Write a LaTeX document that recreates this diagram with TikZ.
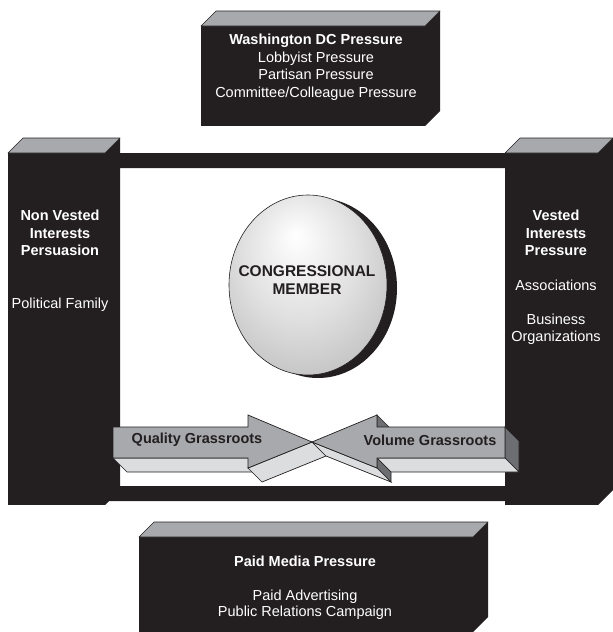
\documentclass[tikz,border=0pt]{standalone}
\usepackage{fontspec}
\setmainfont{Liberation Sans}
\usepackage{tikz}
\definecolor{ink}{HTML}{231F20}
\definecolor{lid}{HTML}{A7A9AC}
\definecolor{belly}{HTML}{DCDDDE}
\definecolor{butt}{HTML}{6D6E71}
\pgfdeclareradialshading{congball}{\pgfpoint{-4bp}{14bp}}{color(0bp)=(white); color(18bp)=(white!88!black); color(50bp)=(white!62!black)}

\begin{document}
\begin{tikzpicture}[x=1pt,y=-1pt,
  lidstyle/.style={fill=lid,draw=ink,line width=0.6pt,line join=round},
  facestyle/.style={fill=lid,draw=ink,line width=0.7pt},
  bellystyle/.style={fill=belly,draw=ink,line width=0.7pt},
  buttstyle/.style={fill=butt,draw=ink,line width=0.7pt},
  whitetext/.style={text=white,align=center,inner sep=0pt,font=\fontsize{14.5}{17.5}\selectfont},
  inktext/.style={text=ink,align=center,inner sep=0pt,font=\fontsize{14.5}{17.5}\selectfont\bfseries}]

  \useasboundingbox (0,0) rectangle (613,632);

  \fill[ink] (105,153) rectangle (505,168) (105,486) rectangle (505,501);

  \foreach \xa/\ya/\xb/\yb in {201/26/425/126, 8/153/105/505, 505/153/598/505, 139/537/473/632}
    {\fill[ink] (\xa,\ya) rectangle (\xb,\yb);
     \fill[ink] (\xb,\ya) -- ++(15,-15) -- (\xb+15,\yb-15) -- (\xb,\yb) -- cycle;
     \draw[lidstyle] (\xa,\ya) -- ++(15,-15) -- (\xb+15,\ya-15) -- (\xb,\ya) -- cycle;}

  \fill[ink] (318,288) ellipse [x radius=79, y radius=90];
  \shade[shading=congball,draw=ink,line width=0.6pt] (308,285) ellipse [x radius=79, y radius=90];

  \coordinate (tip) at (312,442);
  \draw[bellystyle] (113,458) -- (248,458) -- ++(14,14) -- (127,472) -- cycle;
  \draw[bellystyle] (248,468) -- (tip) -- ++(14,14) -- (262,482) -- cycle;
  \draw[facestyle] (113,427) -- (248,427) -- (248,415) -- (tip) -- (248,468) -- (248,458) -- (113,458) -- cycle;

  \draw[buttstyle] (505,427) -- (505,458) -- ++(14,14) -- (519,441) -- cycle;
  \draw[bellystyle] (377,458) -- (505,458) -- ++(14,14) -- (391,472) -- cycle;
  \draw[buttstyle] (377,415) -- (377,427) -- ++(14,14) -- (391,429) -- cycle;
  \draw[buttstyle] (377,458) -- (377,468) -- ++(14,14) -- (391,472) -- cycle;
  \draw[bellystyle] (tip) -- (377,468) -- ++(14,14) -- (326,456) -- cycle;
  \draw[facestyle] (tip) -- (377,415) -- (377,427) -- (505,427) -- (505,458) -- (377,458) -- (377,468) -- cycle;

  \node[whitetext] (dc) at (316,67) {{\bfseries Washington DC Pressure}\\Lobbyist Pressure\\Partisan Pressure\\Committee/Colleague Pressure};
  \node[whitetext,font=\fontsize{14.5}{17.5}\selectfont\bfseries] (nonvested) at (60,233) {Non Vested\\Interests\\Persuasion};
  \node[whitetext] (family) at (60,305) {Political Family};
  \node[whitetext,font=\fontsize{14.5}{17.5}\selectfont\bfseries] (vested) at (556,233) {Vested\\Interests\\Pressure};
  \node[whitetext] (assoc) at (556,285) {Associations};
  \node[whitetext] (business) at (556,329) {Business\\Organizations};
  \node[inktext,font=\fontsize{15.5}{18}\selectfont\bfseries] (member) at (307,280) {CONGRESSIONAL\\MEMBER};
  \node[inktext] (quality) at (197,440) {Quality Grassroots};
  \node[inktext] (volume) at (430,440) {Volume Grassroots};
  \node[whitetext,font=\fontsize{14.5}{17.5}\selectfont\bfseries] (media) at (305,561) {Paid Media Pressure};
  \node[whitetext,font=\fontsize{14.5}{16}\selectfont] (paid) at (305,605) {Paid Advertising\\Public Relations Campaign};

\end{tikzpicture}
\end{document}
